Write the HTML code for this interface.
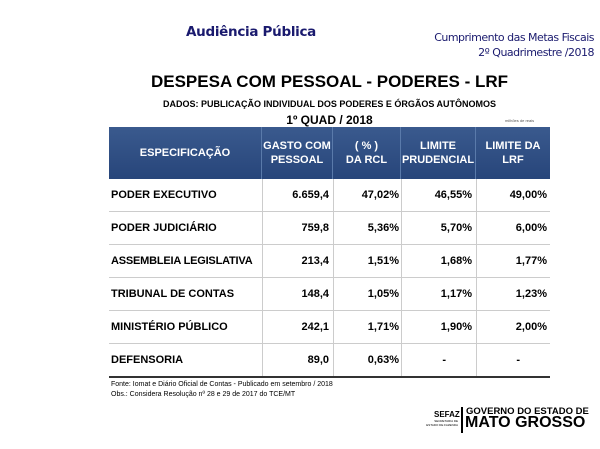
<!DOCTYPE html>
<html><head><meta charset="utf-8"><style>
body{margin:0;width:600px;height:449px;background:#fff;position:relative;overflow:hidden;font-family:"Liberation Sans",sans-serif}
.a{position:absolute;white-space:nowrap}
.hd{position:absolute;top:127px;height:52px;background:linear-gradient(#3a5a8e,#27457a);color:#fff;font-weight:bold;font-size:11px;text-align:center;display:flex;align-items:center;justify-content:center;line-height:14px;border-right:1px solid #5a7aaa;box-sizing:border-box}
.r{position:absolute;left:109px;width:441px;height:33px;border-bottom:1px solid #ccc;box-sizing:border-box;font-weight:bold;font-size:11px}
.r div{position:absolute;top:0;height:33px;line-height:33px;box-sizing:border-box}
.c1{left:0;width:153px;padding-left:2px}
.c2{left:153px;width:71px;text-align:right;padding-right:4px}
.c3{left:224px;width:68px;text-align:right;padding-right:2px}
.c4{left:292px;width:75px;text-align:right;padding-right:4px}
.c5{left:367px;width:74px;text-align:right;padding-right:3px}
.v{position:absolute;top:179px;height:198px;width:1px;background:#ccc}
</style></head><body>
<div class="a" style="left:186px;top:24px;font-size:13.5px;font-weight:bold;color:#1a1a6e;font-family:'DejaVu Sans',sans-serif;letter-spacing:-0.3px">Audiência Pública</div>
<div class="a" style="right:6px;top:30px;font-size:11px;color:#1a1a6e;text-align:right;line-height:15px;font-family:'DejaVu Sans',sans-serif;letter-spacing:-0.5px">Cumprimento das Metas Fiscais<br>2º Quadrimestre /2018</div>
<div class="a" style="left:109px;width:441px;top:72px;text-align:center;font-size:17px;font-weight:bold">DESPESA COM PESSOAL - PODERES - LRF</div>
<div class="a" style="left:109px;width:441px;top:99px;text-align:center;font-size:9px;font-weight:bold">DADOS: PUBLICAÇÃO INDIVIDUAL DOS PODERES E ÓRGÃOS AUTÔNOMOS</div>
<div class="a" style="left:109px;width:441px;top:113px;text-align:center;font-size:12px;font-weight:bold">1º QUAD / 2018</div>
<div class="a" style="left:505px;top:118px;font-size:4px;color:#555">milhões de reais</div>
<div class="hd" style="left:109px;width:153px">ESPECIFICAÇÃO</div>
<div class="hd" style="left:262px;width:71px">GASTO COM<br>PESSOAL</div>
<div class="hd" style="left:333px;width:68px">( % )<br>DA RCL</div>
<div class="hd" style="left:401px;width:75px">LIMITE<br>PRUDENCIAL</div>
<div class="hd" style="left:476px;width:74px;border-right:none">LIMITE DA<br>LRF</div>
<div class="v" style="left:262px"></div><div class="v" style="left:333px"></div><div class="v" style="left:401px"></div><div class="v" style="left:476px"></div>
<div class="r" style="top:179px"><div class="c1">PODER EXECUTIVO</div><div class="c2">6.659,4</div><div class="c3">47,02%</div><div class="c4">46,55%</div><div class="c5">49,00%</div></div>
<div class="r" style="top:212px"><div class="c1">PODER JUDICIÁRIO</div><div class="c2">759,8</div><div class="c3">5,36%</div><div class="c4">5,70%</div><div class="c5">6,00%</div></div>
<div class="r" style="top:245px"><div class="c1" style="letter-spacing:-0.2px">ASSEMBLEIA LEGISLATIVA</div><div class="c2">213,4</div><div class="c3">1,51%</div><div class="c4">1,68%</div><div class="c5">1,77%</div></div>
<div class="r" style="top:278px"><div class="c1">TRIBUNAL DE CONTAS</div><div class="c2">148,4</div><div class="c3">1,05%</div><div class="c4">1,17%</div><div class="c5">1,23%</div></div>
<div class="r" style="top:311px"><div class="c1">MINISTÉRIO PÚBLICO</div><div class="c2">242,1</div><div class="c3">1,71%</div><div class="c4">1,90%</div><div class="c5">2,00%</div></div>
<div class="r" style="top:344px;border-bottom:2px solid #333;height:34px"><div class="c1">DEFENSORIA</div><div class="c2">89,0</div><div class="c3">0,63%</div><div class="c4" style="padding-right:30px">-</div><div class="c5" style="padding-right:30px">-</div></div>
<div class="a" style="left:111px;top:380px;font-size:7px;line-height:10px">Fonte: Iomat e Diário Oficial de Contas - Publicado em setembro / 2018<br>Obs.: Considera Resolução nº 28 e 29 de 2017 do TCE/MT</div>
<div class="a" style="left:434px;top:410px;font-size:8px;font-weight:bold">SEFAZ</div>
<div class="a" style="left:416px;top:419px;font-size:3px;line-height:4px;text-align:right;width:42px">SECRETARIA DE<br>ESTADO DE FAZENDA</div>
<div class="a" style="left:461px;top:407px;width:2px;height:26px;background:#000"></div>
<div class="a" style="left:466px;top:406px;font-size:9.5px;font-weight:bold">GOVERNO DO ESTADO DE</div>
<div class="a" style="left:465px;top:414px;font-size:16px;font-weight:bold">MATO GROSSO</div>
</body></html>
